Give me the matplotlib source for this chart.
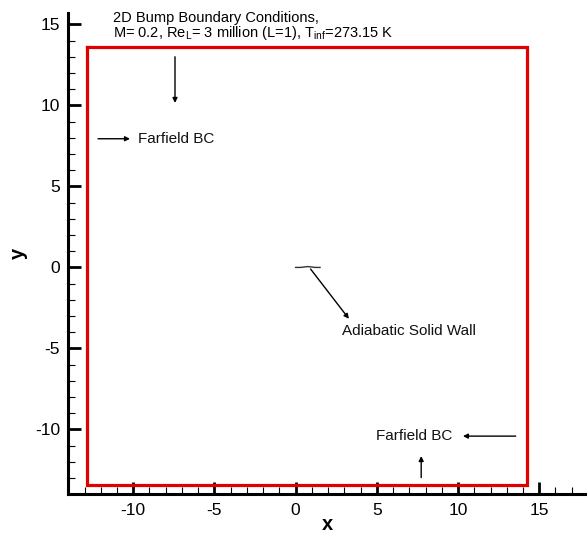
import matplotlib
matplotlib.use("Agg")
import matplotlib.pyplot as plt
from matplotlib.ticker import MultipleLocator

plt.rcParams['font.family'] = ['Liberation Sans', 'DejaVu Sans']
plt.rcParams['axes.unicode_minus'] = False
plt.rcParams['mathtext.fontset'] = 'custom'
plt.rcParams['mathtext.rm'] = 'Liberation Sans'

# Outer farfield boundary of the computational domain
boundary_x = [-12.83, 14.26, 14.26, -12.83, -12.83]
boundary_y = [13.6, 13.6, -13.45, -13.45, 13.6]

# Bump wall surface (solid wall segment near the origin)
wall_x = [0.0, 0.3, 0.55, 0.75, 0.95, 1.2, 1.5]
wall_y = [0.0, 0.0, 0.03, 0.05, 0.03, 0.0, 0.0]

# Annotation labels: (text, x, y)
labels = [
    ("Farfield BC", -9.7, 7.94),
    ("Adiabatic Solid Wall", 2.83, -3.9),
    ("Farfield BC", 4.96, -10.41),
]

# Arrows: (x_start, y_start, x_end, y_end)
arrows = [
    (-7.43, 13.0, -7.43, 10.15),
    (-12.17, 7.94, -10.2, 7.94),
    (0.92, -0.1, 3.28, -3.17),
    (13.55, -10.41, 10.3, -10.41),
    (7.73, -12.97, 7.73, -11.64),
]

xlim = (-14.0, 17.94)
ylim = (-14.0, 15.7)

W, H = 587, 535
fig = plt.figure(figsize=(W / 100, H / 100), dpi=100)
ax = fig.add_axes([68.3 / W, 1 - 494.3 / H, (W - 68.3) / W, (494.3 - 13) / H])

ax.plot(boundary_x, boundary_y, color='#e00000', lw=2.3, solid_joinstyle='miter')
ax.plot(wall_x, wall_y, color='#333333', lw=1.0)

for (x0, y0, x1, y1) in arrows:
    ax.annotate('', xy=(x1, y1), xytext=(x0, y0),
                arrowprops=dict(arrowstyle='-|>', color='black', lw=1.0,
                                mutation_scale=7, shrinkA=0, shrinkB=0))

for (txt, x, y) in labels:
    ax.text(x, y, txt, fontsize=11, ha='left', va='center', color='#111111')

ax.set_xlim(*xlim)
ax.set_ylim(*ylim)

for side in ('top', 'right'):
    ax.spines[side].set_visible(False)
for side in ('left', 'bottom'):
    ax.spines[side].set_linewidth(2.2)

ax.xaxis.set_major_locator(MultipleLocator(5))
ax.xaxis.set_minor_locator(MultipleLocator(1))
ax.yaxis.set_major_locator(MultipleLocator(5))
ax.yaxis.set_minor_locator(MultipleLocator(1))
ax.tick_params(which='major', direction='in', length=9, width=2.0, labelsize=12.5, pad=6)
ax.tick_params(which='minor', direction='in', length=5, width=0.8)

ax.set_xlabel('x', fontsize=14.5, fontweight='bold', labelpad=-2)
ax.set_ylabel('y', fontsize=14.5, fontweight='bold', labelpad=5)

fig.text(112.7 / W, 1 - 22.3 / H, '2D Bump Boundary Conditions,', fontsize=10.5,
         ha='left', va='baseline')
fig.text(112.7 / W, 1 - 37.0 / H,
         r'M= 0.2, Re$_\mathregular{L}$= 3 million (L=1), T$_\mathregular{inf}$=273.15 K',
         fontsize=10.5, ha='left', va='baseline')

fig.savefig('out.png', dpi=100)
